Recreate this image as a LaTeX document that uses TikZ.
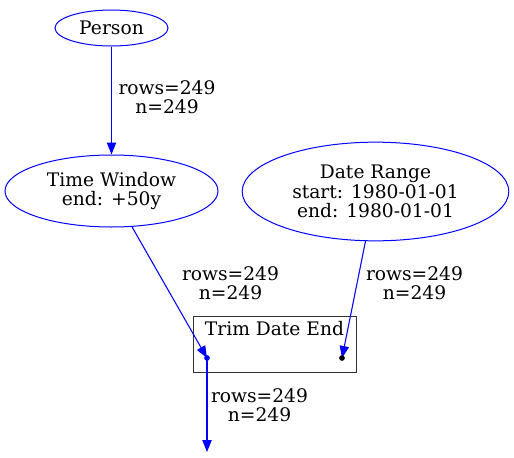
\documentclass[tikz,border=0pt]{standalone}
\usepackage{fontspec}
\setmainfont{DejaVu Serif}
\usepackage{tikz,xcolor}
\usetikzlibrary{shapes.geometric,arrows.meta}

\tikzset{
  step node/.style={ellipse, draw=blue, line width=0.75pt, inner sep=0pt, align=center},
  flow/.style={blue, line width=0.8pt, -{Triangle[length=9pt,width=7pt]}},
  count/.style={align=center, inner sep=0pt}
}

\begin{document}
\begin{tikzpicture}[x=0.75pt,y=-0.75pt,font=\fontsize{14}{14.5}\selectfont]
\useasboundingbox (0,0) rectangle (514,457);

% sources
\node[step node, minimum width=84.75pt, minimum height=27pt] (person) at (111.5,28) {Person};
\node[step node, minimum width=159.75pt, minimum height=54pt] (window) at (111.5,191) {Time Window\\end: +50y};
\node[step node, minimum width=200pt, minimum height=74pt] (range) at (375.5,191.5) {Date Range\\start: 1980-01-01\\end: 1980-01-01};

% trim box with its two ports
\node[draw=black!80, line width=0.75pt, minimum width=122.25pt, minimum height=42pt, inner sep=0pt] (trim) at (274.5,344) {};
\node[anchor=north, inner sep=0pt] (trimtext) at (274.5,321) {Trim Date End};
\coordinate (inA) at (207,358);
\coordinate (inB) at (342,358);
\coordinate (out) at (207,452);

\draw[flow] (person) -- (window);
\draw[flow] (window) -- (inA);
\draw[flow] (range) -- (inB);
\draw[flow] (inA) -- (out);
\filldraw[blue] (inA) circle (2.5);
\filldraw[black] (inB) circle (2.5);

\node[count] (c1) at (167,97) {rows=249\\n=249};
\node[count] (c2) at (230.5,283) {rows=249\\n=249};
\node[count] (c3) at (414.5,283) {rows=249\\n=249};
\node[count] (c4) at (259.5,405) {rows=249\\n=249};
\end{tikzpicture}
\end{document}
